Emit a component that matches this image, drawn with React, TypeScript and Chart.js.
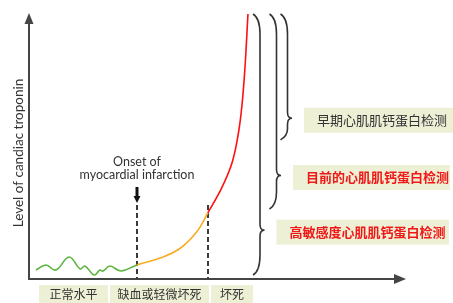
import React, { useEffect, useRef } from 'react';
import { Chart, registerables } from 'chart.js';

Chart.register(...registerables);

// ---- data (abstract units: time 0..100, troponin level 0..100) ----
const baselineX = [1.9, 4.6, 7.3, 10.9, 13.9, 15.2, 17.7, 19.3, 20.1, 22.0, 25.0, 29.3];
const baselineY = [3.4, 5.3, 3.4, 8.3, 3.8, 4.9, 1.5, 3.4, 3.0, 4.9, 3.0, 5.3];
const ischemiaX = [29.3, 35.6, 41.0, 45.6, 48.6];
const ischemiaY = [5.3, 7.9, 11.5, 17.8, 25.0];
const necrosisX = [48.6, 52.4, 55.2, 56.9, 57.9, 58.7, 59.5];
const necrosisY = [25.0, 34.5, 44.0, 55.0, 66.0, 80.0, 100];
const eventX = [29.3, 48.6]; // onset of MI, start of necrosis
const phaseLabels = ['正常水平', '缺血或轻微坏死', '坏死'];
const assayLabels = ['早期心肌肌钙蛋白检测', '目前的心肌肌钙蛋白检测', '高敏感度心肌肌钙蛋白检测'];
const assayLowerLimits = [52.5, 26.4, 1.5];
const assayUpperLimit = 100;
const yAxisTitle = 'Level of candiac troponin';
const onsetLabel = ['Onset of', 'myocardial infarction'];

const toPts = (xs: number[], ys: number[]) => xs.map((x, i) => ({ x, y: ys[i] }));

const AXIS = '#454545';
const BOX_BG = '#edf0d4';
const CJK = '"Noto Sans CJK SC", "Noto Sans", sans-serif';
const LATIN = 'Lato, "Noto Sans", sans-serif';
const GREEN = '#5bb53f';
const ORANGE = '#f7ad22';
const RED = '#ff1010';

function drawBrace(ctx: CanvasRenderingContext2D, x0: number, yTop: number, yBot: number, yTip: number) {
  const xv = x0 + 7;
  const xt = x0 + 11.5;
  const r = 20;
  const r2 = 6;
  ctx.beginPath();
  ctx.moveTo(x0, yTop);
  ctx.quadraticCurveTo(xv, yTop + 4, xv, yTop + r);
  ctx.lineTo(xv, yTip - r2);
  ctx.quadraticCurveTo(xv, yTip, xt, yTip);
  ctx.quadraticCurveTo(xv, yTip, xv, yTip + r2);
  ctx.lineTo(xv, yBot - Math.min(r, (yBot - yTip) * 0.5));
  ctx.quadraticCurveTo(xv, yBot - 4, x0, yBot);
  ctx.stroke();
}

const decorPlugin = {
  id: 'decor',
  beforeDatasetsDraw(chart: any) {
    const { ctx, chartArea, scales } = chart;
    const { left, top, right, bottom } = chartArea;
    ctx.save();
    ctx.strokeStyle = AXIS;
    ctx.fillStyle = AXIS;
    ctx.lineWidth = 2;
    ctx.beginPath();
    ctx.moveTo(left, bottom);
    ctx.lineTo(left, top + 8);
    ctx.moveTo(left - 1, bottom);
    ctx.lineTo(right, bottom);
    ctx.stroke();
    ctx.beginPath();
    ctx.moveTo(left, top - 1);
    ctx.lineTo(left - 4.5, top + 10);
    ctx.lineTo(left + 4.5, top + 10);
    ctx.closePath();
    ctx.fill();
    ctx.beginPath();
    ctx.moveTo(right + 9, bottom);
    ctx.lineTo(right - 3, bottom - 5);
    ctx.lineTo(right - 3, bottom + 5);
    ctx.closePath();
    ctx.fill();

    ctx.setLineDash([5, 3]);
    ctx.lineWidth = 2;
    ctx.strokeStyle = '#3a3a3a';
    eventX.forEach((v) => {
      const px = Math.round(scales.x.getPixelForValue(v));
      ctx.beginPath();
      ctx.moveTo(px, 205);
      ctx.lineTo(px, bottom);
      ctx.stroke();
    });
    ctx.setLineDash([]);

    const ax = Math.round(scales.x.getPixelForValue(eventX[0]));
    ctx.fillStyle = '#111';
    ctx.fillRect(ax - 1.5, 187, 3, 10);
    ctx.beginPath();
    ctx.moveTo(ax - 3.5, 196);
    ctx.lineTo(ax + 3.5, 196);
    ctx.lineTo(ax, 203);
    ctx.closePath();
    ctx.fill();

    ctx.fillStyle = '#333';
    ctx.font = `12.5px ${LATIN}`;
    ctx.textAlign = 'center';
    ctx.textBaseline = 'middle';
    ctx.fillText(onsetLabel[0], ax, 162);
    ctx.fillText(onsetLabel[1], ax, 175);

    ctx.save();
    ctx.translate(19, 153);
    ctx.rotate(-Math.PI / 2);
    ctx.font = `13.5px ${LATIN}`;
    ctx.fillText(yAxisTitle, 0, 0);
    ctx.restore();

    const phaseBoxes = [[39, 108], [110, 209], [211, 253]];
    phaseLabels.forEach((lab, i) => {
      const [x0, x1] = phaseBoxes[i];
      ctx.fillStyle = BOX_BG;
      ctx.fillRect(x0, 285, x1 - x0, 18);
      ctx.fillStyle = '#333';
      ctx.font = `12px ${CJK}`;
      ctx.textAlign = 'center';
      ctx.fillText(lab, (x0 + x1) / 2, 294.5);
    });
    ctx.restore();
  },
  afterDatasetsDraw(chart: any) {
    const { ctx, scales } = chart;
    ctx.save();
    const braceX = [280.5, 269.5, 253];
    const boxRight = [453, 450, 449];
    const yTopPx = scales.y.getPixelForValue(assayUpperLimit);
    assayLabels.forEach((lab, i) => {
      const yBot = scales.y.getPixelForValue(assayLowerLimits[i]);
      const yTip = yBot - 0.172 * (yBot - yTopPx);
      ctx.strokeStyle = '#333';
      ctx.lineWidth = 1.6;
      drawBrace(ctx, braceX[i], yTopPx, yBot, yTip);
      const bx = braceX[i] + 23.5;
      ctx.fillStyle = BOX_BG;
      ctx.fillRect(bx, yTip - 10.5, boxRight[i] - bx, 25);
      ctx.textAlign = 'left';
      ctx.textBaseline = 'middle';
      if (i === 0) {
        ctx.fillStyle = '#333';
        ctx.font = `13px ${CJK}`;
      } else {
        ctx.fillStyle = '#f01818';
        ctx.font = `bold 13px ${CJK}`;
      }
      ctx.fillText(lab, bx + 13, yTip + 2);
    });
    ctx.restore();
  },
};

export default function App() {
  const ref = useRef<HTMLCanvasElement | null>(null);
  useEffect(() => {
    if (!ref.current) return;
    const curve = [
      ...toPts(baselineX, baselineY),
      ...toPts(ischemiaX, ischemiaY).slice(1),
      ...toPts(necrosisX, necrosisY).slice(1),
    ];
    const chart = new Chart(ref.current, {
      type: 'line',
      data: {
        datasets: [
          {
            data: curve,
            borderColor: GREEN,
            borderWidth: 1.6,
            tension: 0.4,
            pointRadius: 0,
            clip: false as any,
            segment: {
              borderColor: (c: any) =>
                c.p0.parsed.x >= eventX[1] ? RED : c.p0.parsed.x >= eventX[0] ? ORANGE : GREEN,
            },
          },
        ],
      },
      options: {
        animation: false,
        responsive: true,
        maintainAspectRatio: false,
        layout: { padding: { left: 29, top: 14, right: 56, bottom: 24 } },
        scales: {
          x: { type: 'linear', min: 0, max: 100, display: false },
          y: { min: 0, max: 100, display: false },
        },
        plugins: { legend: { display: false }, tooltip: { enabled: false } },
        events: [],
      },
      plugins: [decorPlugin],
    });
    return () => chart.destroy();
  }, []);
  return (
    <div style={{ position: 'fixed', left: 0, top: 0, width: 453, height: 303, background: '#fff' }}>
      <canvas ref={ref} />
    </div>
  );
}
